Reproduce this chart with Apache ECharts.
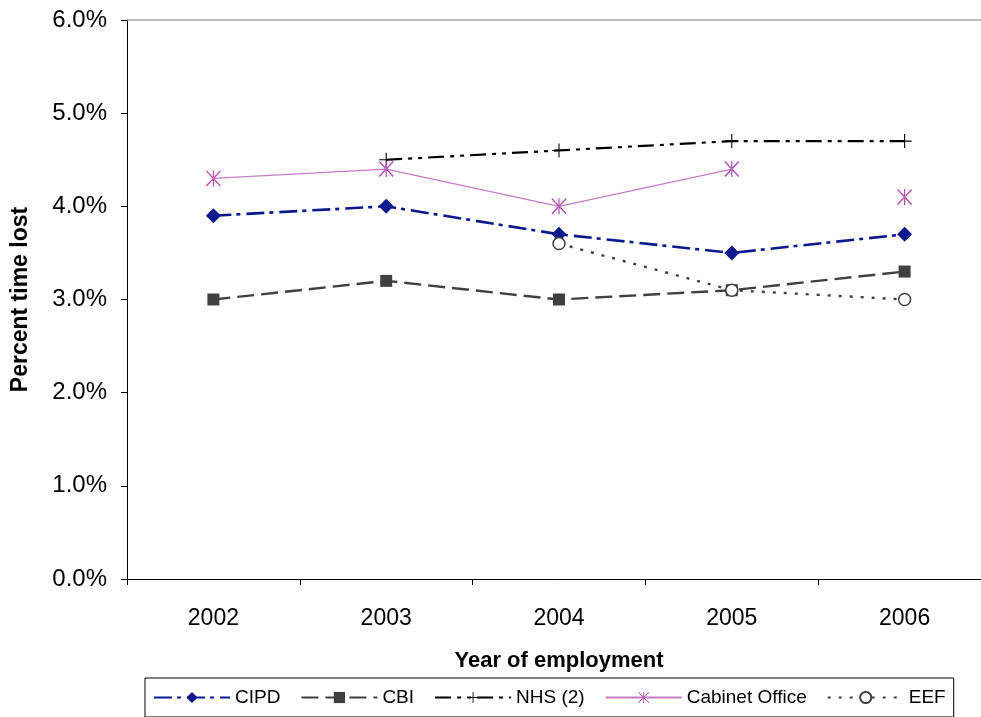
<!DOCTYPE html>
<html>
<head>
<meta charset="utf-8">
<script src="https://cdn.jsdelivr.net/npm/echarts@6/dist/echarts.min.js"></script>
<style>
  html, body { margin: 0; padding: 0; background: #fff; }
  #chart { width: 981px; height: 717px; }
</style>
</head>
<body>
<div id="chart"></div>
<script>
// Sickness absence: percent of working time lost, by survey source
const years = ['2002', '2003', '2004', '2005', '2006'];
const cipd = [3.9, 4.0, 3.7, 3.5, 3.7];
const cbi = [3.0, 3.2, 3.0, 3.1, 3.3];
const nhs = [null, 4.5, 4.6, 4.7, 4.7];
const cabinetOffice = [4.3, 4.4, 4.0, 4.4, null];
const cabinetOffice2006 = [null, null, null, null, 4.1];
const eef = [null, null, 3.6, 3.1, 3.0];

const yMin = 0, yMax = 6, yStep = 1;

const FONT = 'Liberation Sans, Arial, sans-serif';
const plusPath = 'path://M6,0h1v6h6v1h-6v6h-1v-6h-6v-1h6z';
const starPath = 'path://M6,0h1v13h-1z M0,0.8L0.8,0L13,12.2L12.2,13Z M13,0.8L12.2,0L0,12.2L0.8,13Z';

const chart = echarts.init(document.getElementById('chart'), null, { renderer: 'canvas' });

const cabinetStyle = {
  symbol: starPath,
  symbolSize: [15, 16],
  itemStyle: { color: '#b048b0' },
  lineStyle: { color: '#c47cc8', width: 1.2, type: 'solid' }
};

chart.setOption({
  animation: false,
  backgroundColor: '#ffffff',
  grid: {
    left: 127, top: 20, right: -10, bottom: 138,
    containLabel: false,
    outerBoundsMode: 'none'
  },
  legend: {
    left: 145,
    top: 678,
    itemWidth: 76,
    itemHeight: 14,
    itemGap: 20,
    padding: [10, 8],
    borderColor: '#000',
    borderWidth: 1,
    textStyle: { fontFamily: FONT, fontSize: 19, color: '#000' },
    data: ['CIPD', 'CBI', 'NHS (2)', 'Cabinet Office', 'EEF']
  },
  xAxis: {
    type: 'category',
    data: years,
    boundaryGap: true,
    name: 'Year of employment',
    nameLocation: 'middle',
    nameGap: 71,
    nameTextStyle: { fontFamily: FONT, fontSize: 22, fontWeight: 'bold', color: '#000' },
    axisLine: { lineStyle: { color: '#000', width: 1 } },
    axisTick: { show: true, alignWithLabel: false, length: 6, lineStyle: { color: '#000' } },
    axisLabel: { fontFamily: FONT, fontSize: 23, color: '#000', margin: 28 },
    splitLine: { show: false }
  },
  yAxis: {
    type: 'value',
    min: yMin,
    max: yMax,
    interval: yStep,
    name: 'Percent time lost',
    nameLocation: 'middle',
    nameGap: 95,
    nameTextStyle: { fontFamily: FONT, fontSize: 23, fontWeight: 'bold', color: '#000' },
    axisLine: { show: true, lineStyle: { color: '#000', width: 1 } },
    axisTick: { show: true, length: 6, lineStyle: { color: '#000' } },
    axisLabel: {
      fontFamily: FONT, fontSize: 24, color: '#000', margin: 20,
      formatter: v => v.toFixed(1) + '%'
    },
    splitLine: { show: false }
  },
  series: [
    {
      name: 'CIPD', type: 'line', data: cipd,
      symbol: 'diamond', symbolSize: 15,
      itemStyle: { color: '#0a1a8c' },
      lineStyle: { color: '#0a1a8c', width: 2.6, type: [18, 5, 4, 6] },
      markLine: {
        silent: true, symbol: 'none', label: { show: false },
        lineStyle: { color: '#a6a6a6', width: 1.5, type: 'solid' },
        data: [{ yAxis: yMax }]
      }
    },
    {
      name: 'CBI', type: 'line', data: cbi,
      symbol: 'rect', symbolSize: 12,
      itemStyle: { color: '#404040' },
      lineStyle: { color: '#404040', width: 2.4, type: [17, 7] }
    },
    {
      name: 'NHS (2)', type: 'line', data: nhs,
      symbol: plusPath, symbolSize: 14,
      itemStyle: { color: '#000' },
      lineStyle: { color: '#000', width: 2.2, type: [16, 6, 4, 6, 4, 6] }
    },
    Object.assign({ name: 'Cabinet Office', type: 'line', data: cabinetOffice }, cabinetStyle),
    Object.assign({ name: 'Cabinet Office', type: 'line', data: cabinetOffice2006 }, cabinetStyle),
    {
      name: 'EEF', type: 'line', data: eef,
      symbol: 'circle', symbolSize: 12,
      itemStyle: { color: '#ffffff', borderColor: '#404040', borderWidth: 1.5 },
      lineStyle: { color: '#404040', width: 2.4, type: [3, 8] }
    }
  ]
});
</script>
</body>
</html>
